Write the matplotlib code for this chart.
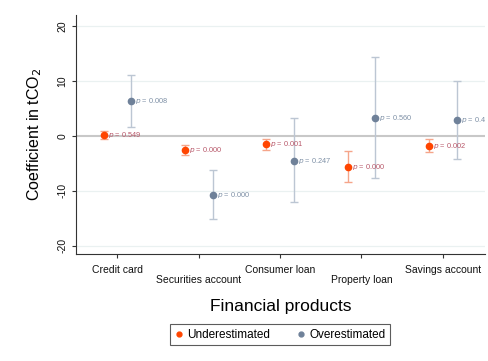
import matplotlib
matplotlib.use("Agg")
import matplotlib.pyplot as plt
import numpy as np
from matplotlib.lines import Line2D

plt.rcParams['font.family'] = ['Liberation Sans', 'DejaVu Sans']

products = ["Credit card", "Securities account", "Consumer loan", "Property loan", "Savings account"]

under_coef = [0.2, -2.5, -1.5, -5.6, -1.8]
under_lo = [-0.6, -3.5, -2.5, -8.4, -2.9]
under_hi = [0.9, -1.6, -0.6, -2.7, -0.6]
under_p = ["0.549", "0.000", "0.001", "0.000", "0.002"]

over_coef = [6.4, -10.7, -4.5, 3.3, 2.9]
over_lo = [1.7, -15.2, -12.1, -7.7, -4.2]
over_hi = [11.0, -6.2, 3.2, 14.3, 10.0]
over_p = ["0.008", "0.000", "0.247", "0.560", "0.420"]

yticks = [-20, -10, 0, 10, 20]

c_under = "#ff4500"
c_under_ci = "#f5a58a"
c_under_txt = "#b8586a"
c_over = "#6f8199"
c_over_ci = "#bcc6d3"
c_over_txt = "#7e90a6"

fig = plt.figure(figsize=(4.89, 3.61), dpi=100)
ax = fig.add_axes([0.1554, 0.2964, 0.8364, 0.662])

x = np.arange(1, len(products) + 1)
off = 0.17

for y in yticks:
    if y != 0:
        ax.axhline(y, color="#eaf1f1", lw=0.9, zorder=0)
ax.axhline(0, color="#c8c8c8", lw=1.5, zorder=1)

def draw(xs, coef, lo, hi, pv, col, cicol, tcol):
    coef = np.array(coef); lo = np.array(lo); hi = np.array(hi)
    ax.errorbar(xs, coef, yerr=[coef - lo, hi - coef], fmt="none",
                ecolor=cicol, elinewidth=1.0, capsize=3, capthick=1.0, zorder=2)
    ax.plot(xs, coef, "o", color=col, ms=4.5, zorder=3)
    for xi, yi, p in zip(xs, coef, pv):
        ax.text(xi + 0.05, yi, r"$p$ = " + p, color=tcol, fontsize=5.3,
                va="center", ha="left", zorder=4, clip_on=True)

draw(x - off, under_coef, under_lo, under_hi, under_p, c_under, c_under_ci, c_under_txt)
draw(x + off, over_coef, over_lo, over_hi, over_p, c_over, c_over_ci, c_over_txt)

ax.set_xlim(0.49, 5.52)
ax.set_ylim(-21.5, 22)
ax.set_yticks(yticks)
ax.set_yticklabels([str(t) for t in yticks], rotation=90, va="center", fontsize=7.5)
ax.set_xticks(x)
ax.set_xticklabels(products, fontsize=7.5)
for i, lab in enumerate(ax.get_xticklabels()):
    if i % 2 == 1:
        lab.set_y(-0.04)

ax.tick_params(axis="both", length=3, width=0.8, color="#333333", labelcolor="#111111")
ax.tick_params(axis="x", pad=5)
ax.tick_params(axis="y", pad=3)
for s in ["top", "right"]:
    ax.spines[s].set_visible(False)
for s in ["left", "bottom"]:
    ax.spines[s].set_color("#333333")
    ax.spines[s].set_linewidth(0.8)

ax.set_ylabel("Coefficient in tCO$_2$", fontsize=11.5, labelpad=10)
ax.set_xlabel("Financial products", fontsize=12.5, labelpad=10)

handles = [Line2D([], [], marker="o", ls="none", color=c_under, ms=3.5, label="Underestimated"),
           Line2D([], [], marker="o", ls="none", color=c_over, ms=3.5, label="Overestimated")]
leg = fig.legend(handles=handles, loc="center", bbox_to_anchor=(0.572, 0.073), ncol=2,
                 fontsize=8.5, frameon=True, fancybox=False, edgecolor="#333333",
                 handletextpad=0.3, columnspacing=2.2, handlelength=0.8,
                 borderpad=0.4)
leg.get_frame().set_linewidth(0.8)

fig.savefig("out.png", dpi=100, facecolor="white")
